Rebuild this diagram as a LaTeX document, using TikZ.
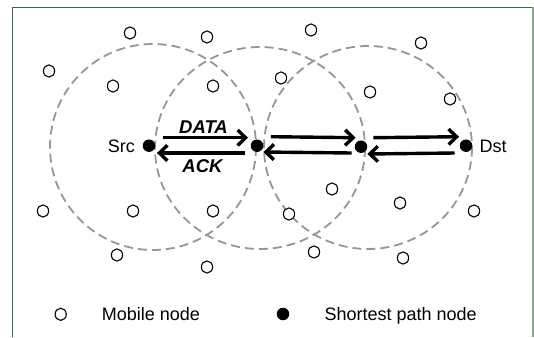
\documentclass[tikz,border=0pt]{standalone}
\usepackage{fontspec}
\setmainfont{Liberation Sans}
\usetikzlibrary{arrows.meta,shapes.geometric}
\definecolor{framegreen}{HTML}{3E6650}
\definecolor{frameright}{HTML}{86A696}
\definecolor{rangegray}{HTML}{969696}
\tikzset{
  mobile/.style={ellipse, draw=black, line width=1.1pt, fill=white,
    minimum width=11.2pt, minimum height=12.2pt, inner sep=0pt},
  spnode/.style={circle, fill=black, minimum size=12.5pt, inner sep=0pt},
  txrange/.style={draw=rangegray, line width=1.8pt, dash pattern=on 9pt off 5pt},
  hop/.style={line width=3.4pt, -{Straight Barb[length=8pt,width=15.5pt]}},
  lbl/.style={font=\fontsize{18}{21}\selectfont, inner sep=0pt,
    text height=12.9pt, text depth=0pt},
  msg/.style={font=\fontsize{18.5}{21}\selectfont\bfseries\itshape, inner sep=0pt,
    text height=13.2pt, text depth=0pt}
}
\begin{document}
\begin{tikzpicture}[x=1pt, y=-1pt]
  \useasboundingbox (0,0) rectangle (534,337);
  % panel frame, open at the bottom
  \draw[framegreen, line width=1.3pt] (12.7,337) -- (12.7,7.3) -- (532,7.3);
  \draw[frameright, line width=2pt] (532.8,6.6) -- (532.8,337);

  % transmission ranges of the path nodes
  \draw[txrange] (153,147) ellipse[x radius=103, y radius=103];
  \draw[txrange] (260,148) ellipse[x radius=105, y radius=101];
  \draw[txrange] (368,147.5) ellipse[x radius=104, y radius=101.5];

  % mobile nodes
  \foreach \p [count=\i] in {(130,33),(207,37),(311,30),(421,43),(49,71),
      (113,86),(213,86),(281,78),(370,92),(450,99),
      (43,211),(133,211),(213,211),(289,214),(332,189),(400,203),(474,211),
      (117,255),(207,267),(314,252),(403,258)}
    \node[mobile] (m\i) at \p {};

  % shortest path nodes
  \node[spnode] (src) at (149,145.7) {};
  \node[spnode] (r1)  at (257,145.7) {};
  \node[spnode] (r2)  at (361,146.7) {};
  \node[spnode] (dst) at (466,145.7) {};
  \node[lbl, anchor=east] (srclbl) at (135,145.7) {Src};
  \node[lbl, anchor=west] (dstlbl) at (479.5,145.7) {Dst};

  % DATA forward (upper), ACK backward (lower) along each hop
  \draw[hop] ([xshift=7.5pt,yshift=8pt]src.east) -- ([xshift=-2.5pt,yshift=8pt]r1.west);
  \draw[hop] ([xshift=-6pt,yshift=-7.3pt]r1.west) -- ([xshift=1.5pt,yshift=-7.3pt]src.east);
  \draw[hop] ([xshift=7.5pt,yshift=9pt]r1.east) -- ([xshift=1pt,yshift=9pt]r2.west);
  \draw[hop] ([xshift=-3pt,yshift=-6.3pt]r2.west) -- ([xshift=0pt,yshift=-6.3pt]r1.east);
  \draw[hop] ([xshift=6pt,yshift=9pt]r2.east) -- ([xshift=-0.5pt,yshift=9pt]dst.west);
  \draw[hop] ([xshift=-5pt,yshift=-7.3pt]dst.west) -- ([xshift=0pt,yshift=-7.3pt]r2.east);
  \node[msg] (data) at (203.5,127.3) {DATA};
  \node[msg] (ack)  at (202.5,165.5) {ACK};

  % legend
  \node[mobile] (legm) at (60.7,314.3) {};
  \node[lbl, anchor=west] (legmt) at (101.7,314.3) {Mobile node};
  \node[spnode] (legs) at (283,314) {};
  \node[lbl, anchor=west] (legst) at (324.3,314.3) {Shortest path node};
\end{tikzpicture}
\end{document}
